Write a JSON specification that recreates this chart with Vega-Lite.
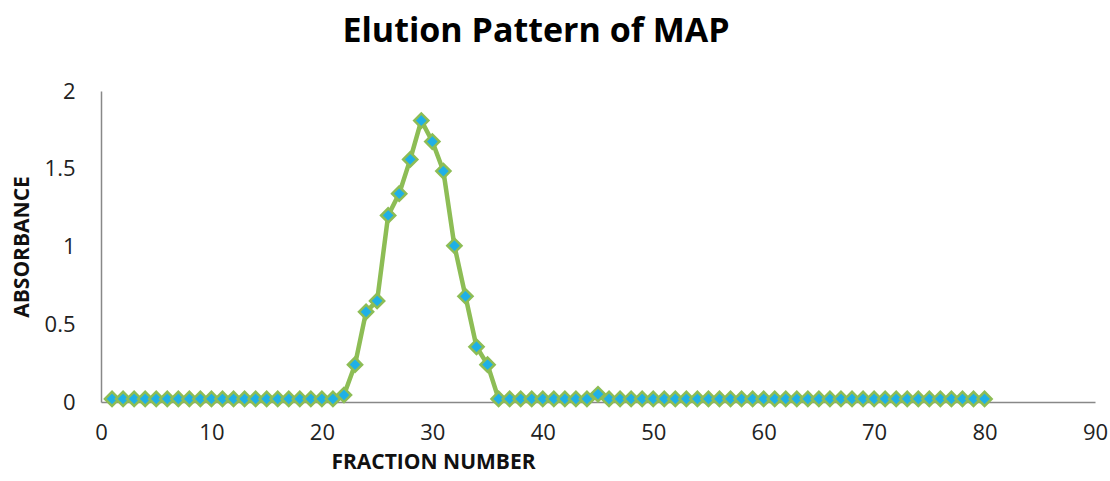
{
  "$schema": "https://vega.github.io/schema/vega-lite/v6.json",
  "width": 994,
  "height": 311,
  "autosize": "none",
  "padding": {"left": 101, "top": 91, "right": 15, "bottom": 79},
  "background": "white",
  "title": {
    "text": "Elution Pattern of MAP",
    "font": "Open Sans",
    "fontSize": 34,
    "fontWeight": "bold",
    "color": "#000000",
    "anchor": "middle",
    "dx": -62,
    "offset": 31
  },
  "config": {
    "view": {"stroke": null},
    "axis": {
      "labelFont": "Open Sans",
      "titleFont": "Open Sans",
      "labelColor": "#222222",
      "titleColor": "#111111",
      "labelFontSize": 22,
      "titleFontSize": 21,
      "titleFontWeight": "bold",
      "grid": false,
      "ticks": false,
      "labelFlush": false,
      "domainColor": "#888888",
      "domainWidth": 1.5
    }
  },
  "data": {
    "values": [
      {"fraction": 1, "absorbance": 0.02},
      {"fraction": 2, "absorbance": 0.02},
      {"fraction": 3, "absorbance": 0.02},
      {"fraction": 4, "absorbance": 0.02},
      {"fraction": 5, "absorbance": 0.02},
      {"fraction": 6, "absorbance": 0.02},
      {"fraction": 7, "absorbance": 0.02},
      {"fraction": 8, "absorbance": 0.02},
      {"fraction": 9, "absorbance": 0.02},
      {"fraction": 10, "absorbance": 0.02},
      {"fraction": 11, "absorbance": 0.02},
      {"fraction": 12, "absorbance": 0.02},
      {"fraction": 13, "absorbance": 0.02},
      {"fraction": 14, "absorbance": 0.02},
      {"fraction": 15, "absorbance": 0.02},
      {"fraction": 16, "absorbance": 0.02},
      {"fraction": 17, "absorbance": 0.02},
      {"fraction": 18, "absorbance": 0.02},
      {"fraction": 19, "absorbance": 0.02},
      {"fraction": 20, "absorbance": 0.02},
      {"fraction": 21, "absorbance": 0.02},
      {"fraction": 22, "absorbance": 0.045},
      {"fraction": 23, "absorbance": 0.24},
      {"fraction": 24, "absorbance": 0.58},
      {"fraction": 25, "absorbance": 0.65},
      {"fraction": 26, "absorbance": 1.2},
      {"fraction": 27, "absorbance": 1.34},
      {"fraction": 28, "absorbance": 1.56},
      {"fraction": 29, "absorbance": 1.81},
      {"fraction": 30, "absorbance": 1.675},
      {"fraction": 31, "absorbance": 1.485},
      {"fraction": 32, "absorbance": 1.005},
      {"fraction": 33, "absorbance": 0.68},
      {"fraction": 34, "absorbance": 0.355},
      {"fraction": 35, "absorbance": 0.24},
      {"fraction": 36, "absorbance": 0.02},
      {"fraction": 37, "absorbance": 0.02},
      {"fraction": 38, "absorbance": 0.02},
      {"fraction": 39, "absorbance": 0.02},
      {"fraction": 40, "absorbance": 0.02},
      {"fraction": 41, "absorbance": 0.02},
      {"fraction": 42, "absorbance": 0.02},
      {"fraction": 43, "absorbance": 0.02},
      {"fraction": 44, "absorbance": 0.02},
      {"fraction": 45, "absorbance": 0.05},
      {"fraction": 46, "absorbance": 0.02},
      {"fraction": 47, "absorbance": 0.02},
      {"fraction": 48, "absorbance": 0.02},
      {"fraction": 49, "absorbance": 0.02},
      {"fraction": 50, "absorbance": 0.02},
      {"fraction": 51, "absorbance": 0.02},
      {"fraction": 52, "absorbance": 0.02},
      {"fraction": 53, "absorbance": 0.02},
      {"fraction": 54, "absorbance": 0.02},
      {"fraction": 55, "absorbance": 0.02},
      {"fraction": 56, "absorbance": 0.02},
      {"fraction": 57, "absorbance": 0.02},
      {"fraction": 58, "absorbance": 0.02},
      {"fraction": 59, "absorbance": 0.02},
      {"fraction": 60, "absorbance": 0.02},
      {"fraction": 61, "absorbance": 0.02},
      {"fraction": 62, "absorbance": 0.02},
      {"fraction": 63, "absorbance": 0.02},
      {"fraction": 64, "absorbance": 0.02},
      {"fraction": 65, "absorbance": 0.02},
      {"fraction": 66, "absorbance": 0.02},
      {"fraction": 67, "absorbance": 0.02},
      {"fraction": 68, "absorbance": 0.02},
      {"fraction": 69, "absorbance": 0.02},
      {"fraction": 70, "absorbance": 0.02},
      {"fraction": 71, "absorbance": 0.02},
      {"fraction": 72, "absorbance": 0.02},
      {"fraction": 73, "absorbance": 0.02},
      {"fraction": 74, "absorbance": 0.02},
      {"fraction": 75, "absorbance": 0.02},
      {"fraction": 76, "absorbance": 0.02},
      {"fraction": 77, "absorbance": 0.02},
      {"fraction": 78, "absorbance": 0.02},
      {"fraction": 79, "absorbance": 0.02},
      {"fraction": 80, "absorbance": 0.02}
    ]
  },
  "encoding": {
    "x": {
      "field": "fraction",
      "type": "quantitative",
      "title": "FRACTION NUMBER",
      "scale": {"domain": [0, 90], "nice": false},
      "axis": {
        "values": [0, 10, 20, 30, 40, 50, 60, 70, 80, 90],
        "labelPadding": 20,
        "titleX": 332,
        "titleY": 60,
        "titleBaseline": "middle",
        "titleAnchor": "middle"
      }
    },
    "y": {
      "field": "absorbance",
      "type": "quantitative",
      "title": "ABSORBANCE",
      "scale": {"domain": [0, 2], "nice": false},
      "axis": {
        "values": [0, 0.5, 1, 1.5, 2],
        "format": "~g",
        "labelPadding": 26,
        "titleX": -79,
        "titleBaseline": "middle"
      }
    }
  },
  "layer": [
    {
      "mark": {"type": "line", "color": "#8dbd55", "strokeWidth": 4.5}
    },
    {
      "mark": {
        "type": "point",
        "shape": "diamond",
        "filled": true,
        "fill": "#1fb0e6",
        "stroke": "#8dbd55",
        "strokeWidth": 2.5,
        "size": 200,
        "opacity": 1
      }
    }
  ]
}
